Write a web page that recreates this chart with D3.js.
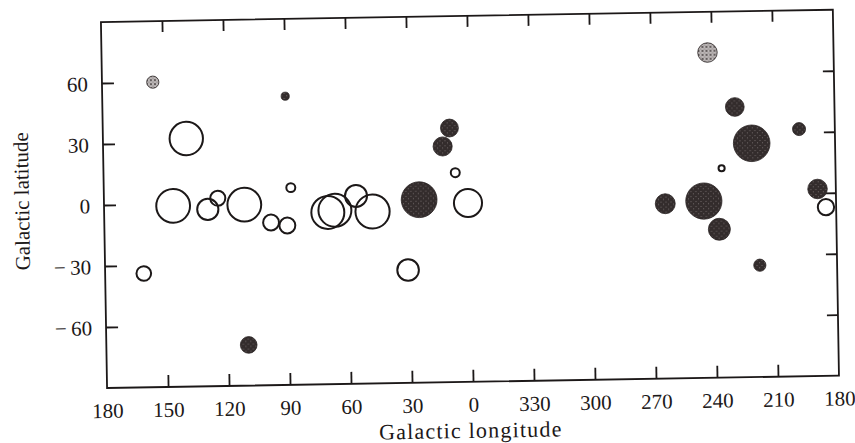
<!DOCTYPE html>
<html>
<head>
<meta charset="utf-8">
<script src="https://cdn.jsdelivr.net/npm/d3@7"></script>
<style>
  body { margin: 0; background: #fff; }
  svg { display: block; }
</style>
</head>
<body>
<svg width="855" height="443"></svg>
<script>
// galactic positions (longitude in 0..360)
const lon  = [155, 90, 139, 9.5, 13, 7, 88, 146, 129, 124, 111, 98, 90, 70, 66.5, 56, 48, 25, 1, 161, 31, 110,
              242, 229, 197.6, 221, 236, 264, 245, 237.6, 189, 185, 218];
const lat  = [60, 52, 32, 35, 26, 13, 7, -1, -3, 2.4, -1, -10, -11.6, -5.5, -4.5, 2.4, -5.4, 0, -2, -34, -34.5, -70,
              70, 43, 31.6, 25, 13, -4, -3, -17, 2, -7, -35];
// apparent radius, degrees
const size = [3.0, 2.0, 8.7, 4.4, 4.7, 2.7, 2.7, 8.8, 5.7, 4.2, 8.8, 4.4, 4.4, 8.6, 8.6, 5.9, 8.9, 8.8, 7.4, 4.1, 5.8, 4.1,
              4.8, 4.6, 3.2, 9.0, 2.0, 4.9, 8.9, 5.4, 4.8, 4.5, 3.0];
const kind = ["mottled", "filled", "open", "filled", "filled", "open", "open", "open", "open", "open", "open", "open",
              "open", "open", "open", "open", "open", "filled", "open", "open", "open", "filled",
              "mottled", "filled", "filled", "filled", "open", "filled", "filled", "filled", "filled", "open", "filled"];

const xTicks = [180, 150, 120, 90, 60, 30, 0, -30, -60, -90, -120, -150, -180];
const yTicks = [60, 30, 0, -30, -60];

const svg = d3.select("svg");
const font = "'Liberation Serif', 'Times New Roman', serif";
const ink = "#1c1818";

// pattern fills to get the printed speckle look
const defs = svg.append("defs");
const dark = defs.append("pattern").attr("id", "dark")
   .attr("patternUnits", "userSpaceOnUse").attr("width", 5).attr("height", 5);
dark.append("rect").attr("width", 5).attr("height", 5).attr("fill", "#332c2c");
dark.append("circle").attr("cx", 1).attr("cy", 1.5).attr("r", 0.6).attr("fill", "#7a7272");
dark.append("circle").attr("cx", 3.5).attr("cy", 3.8).attr("r", 0.5).attr("fill", "#8a8282");
const light = defs.append("pattern").attr("id", "mottled")
   .attr("patternUnits", "userSpaceOnUse").attr("width", 4).attr("height", 4);
light.append("rect").attr("width", 4).attr("height", 4).attr("fill", "#bdb8b8");
light.append("circle").attr("cx", 1).attr("cy", 1).attr("r", 0.9).attr("fill", "#3a3333");
light.append("circle").attr("cx", 3).attr("cy", 3).attr("r", 0.5).attr("fill", "#5a5252");

// the scan is slightly tilted
const g = svg.append("g").attr("transform", "rotate(-0.96, 104, 205)");

const x = d3.scaleLinear().domain([180, -180]).range([104, 836]);
const y = d3.scaleLinear().domain([-90, 90]).range([388, 22]);

const signed = d => d > 180 ? d - 360 : d;
const fmtLon = d => d < 0 ? d + 360 : d;
const fmtLat = d => d < 0 ? "\u2212\u2009" + (-d) : d;

// frame
g.append("rect")
   .attr("x", x(180)).attr("y", y(90))
   .attr("width", x(-180) - x(180)).attr("height", y(-90) - y(90))
   .attr("fill", "none").attr("stroke", ink).attr("stroke-width", 1.8);

const axB = g.append("g").attr("transform", `translate(0,${y(-90)})`)
   .call(d3.axisBottom(x).tickValues(xTicks).tickFormat(fmtLon).tickSize(-12).tickPadding(15));
const axT = g.append("g").attr("transform", `translate(0,${y(90)})`)
   .call(d3.axisTop(x).tickValues(xTicks.slice(1, -1)).tickFormat("").tickSize(-11));
const axL = g.append("g").attr("transform", `translate(${x(180)},0)`)
   .call(d3.axisLeft(y).tickValues(yTicks).tickFormat(fmtLat).tickSize(-12).tickPadding(14));
const axR = g.append("g").attr("transform", `translate(${x(-180)},0)`)
   .call(d3.axisRight(y).tickValues(yTicks).tickFormat("").tickSize(-11));

[axB, axT, axL, axR].forEach(a => {
  a.select(".domain").remove();
  a.selectAll(".tick line").attr("stroke", ink).attr("stroke-width", 1.8);
  a.selectAll("text").attr("fill", ink).attr("font-family", font).attr("font-size", 21);
});
axL.selectAll("text").attr("dy", "0.36em");
// endpoint ticks sit on the frame; hide their marks
axB.selectAll(".tick line").filter(d => Math.abs(d) === 180).remove();

// circles
const pts = lon.map((l, i) => ({ lon: signed(l), lat: lat[i], size: size[i], kind: kind[i] }));
g.append("g").selectAll("circle")
   .data(pts)
   .join("circle")
   .attr("cx", d => x(d.lon))
   .attr("cy", d => y(d.lat))
   .attr("r", d => (y(0) - y(d.size)) - (d.kind === "open" ? 1 : 0))
   .attr("fill", d => d.kind === "open" ? "none" : d.kind === "mottled" ? "url(#mottled)" : "url(#dark)")
   .attr("stroke", d => d.kind === "open" ? ink : "#2a2424")
   .attr("stroke-width", d => d.kind === "open" ? 2 : 0.8);

// axis titles
g.append("text")
   .attr("x", 467).attr("y", 444)
   .attr("text-anchor", "middle")
   .attr("font-family", font).attr("font-size", 22)
   .attr("letter-spacing", 1.2)
   .attr("fill", ink)
   .text("Galactic longitude");

g.append("text")
   .attr("transform", "translate(29,200) rotate(-90)")
   .attr("text-anchor", "middle")
   .attr("font-family", font).attr("font-size", 21)
   .attr("fill", ink)
   .text("Galactic latitude");
</script>
</body>
</html>
